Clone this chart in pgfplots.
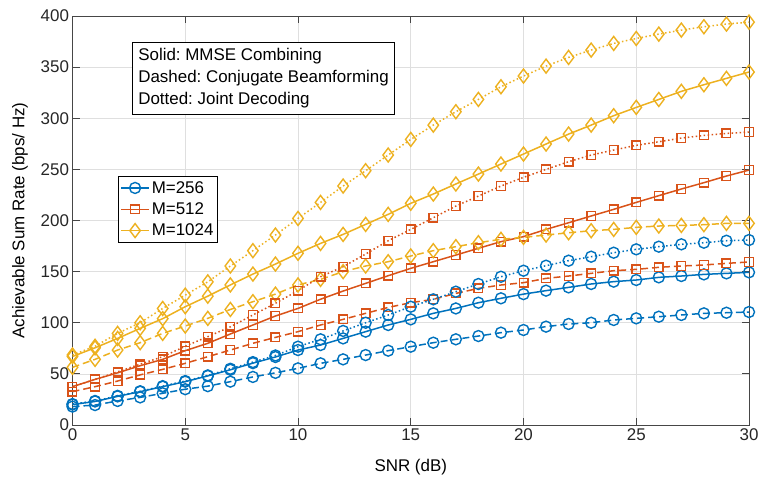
\documentclass[border=0pt]{standalone}
\usepackage{pgfplots}
\pgfplotsset{compat=1.18}
\usepackage{pgfplotstable}
\usepackage{fontspec}
\setmainfont{Liberation Sans}
\frenchspacing
\definecolor{mblue}{RGB}{0,114,189}
\definecolor{morange}{RGB}{217,83,25}
\definecolor{myellow}{RGB}{237,177,32}
\definecolor{axgray}{RGB}{70,70,70}
\definecolor{gridgray}{RGB}{223,223,223}
\pgfplotstableread{
snr bs bdash bd os odash od ys ydash yd
0 20 18 20.5 37.5 32.6 37.5 67 56.4 68.5
1 23 19.5 23.5 44.6 37.5 44.6 75.5 64.2 77
2 28 23.5 28.5 51 43 52 84.7 73.3 89.6
3 32.6 27 33 58 49 59.5 94.5 80.5 100
4 37.5 31 38 64.2 54.4 66.8 104 89.6 114
5 42.4 35 43 72.7 60.3 77 115.7 96.8 127
6 48 38 48.5 79.9 66.8 86.4 126 104.3 140
7 54 42.4 55 89 73.3 96 137 113 155.5
8 60.5 47 61.5 97.8 79.9 107.6 147.6 120.6 170.5
9 66.5 51 68 106.6 85.7 119 157.4 128 185.8
10 73.3 55.4 76.6 114 91.3 131.4 167.9 137 202
11 78.2 60.3 83.8 123 97.8 145 177.6 142.4 217.7
12 84.7 64.2 92 131 103.3 154.8 186.4 150 233.7
13 91.3 68.4 100 138.5 109.2 167.2 196.2 155.5 248.7
14 97.8 72.7 107.6 146 115 180.2 206 159.7 264
15 103.3 76.6 115.7 153.2 119.6 191.3 216.8 165.3 279.3
16 109.2 80.5 122.9 159.7 122.9 202.7 225.9 170.5 293.3
17 114 83.8 130.4 166.2 128.7 214.1 235.7 174.4 306.4
18 119.6 87 137.9 172.8 133.6 223.9 245.4 178.3 318.4
19 123.9 90.3 145 179.3 136.9 233.7 255.2 181.6 330.8
20 128 92.9 150.9 184.2 139.2 242.2 265 183.5 341.3
21 131.4 96.2 155.8 191.3 143.4 250 274.8 185.8 351
22 134.6 98.8 160.7 197.8 145.7 257.5 284.5 188 359.5
23 137.9 100 164.6 204.4 148.3 264 293.3 190 366.7
24 140.2 102.7 168.5 210.9 150.9 268.9 302.5 191.3 373.2
25 141.8 104.3 171.8 217.7 152.2 273.5 310.6 193.3 378
26 144.4 105.9 174.4 224.3 154.2 277 318.4 194.6 382.3
27 145.7 107.6 176.7 230.8 155.5 280.6 326.3 195.2 386.2
28 147.3 109.2 178.3 237 156.5 283.2 332.8 195.9 389.5
29 148.3 109.8 180.2 243.5 158.1 285.2 339 197.2 392.1
30 149.3 110.5 180.9 249.3 159.4 286.5 345.2 197.2 394
}\datatable
\begin{document}
\begin{tikzpicture}
\useasboundingbox (-72.5bp,-57bp) rectangle (687.5bp,425bp);
\begin{axis}[
  at={(0,0)}, anchor=south west,
  scale only axis, width=676.5bp, height=409bp,
  xmin=0, xmax=30, ymin=0, ymax=400,
  xtick={0,5,...,30}, ytick={0,50,...,400},
  grid=major,
  major grid style={gridgray, line width=0.6bp},
  axis line style={axgray, line width=0.8bp},
  tick style={axgray, line width=0.8bp},
  major tick length=7bp,
  tick align=inside,
  xtick pos=both, ytick pos=both,
  font=\fontsize{17}{20}\selectfont,
  tick label style={font=\fontsize{17}{20}\selectfont, text=black!85},
  /pgf/number format/assume math mode=true,
  xlabel={SNR (dB)},
  ylabel={Achievable Sum Rate (bps/ Hz)},
  xlabel style={at={(axis description cs:0.5,-0.1027)}, anchor=center, font=\fontsize{17}{20}\selectfont},
  ylabel style={at={(axis description cs:-0.0776,0.5)}, anchor=center, font=\fontsize{17}{20}\selectfont},
  legend style={at={(axis description cs:0.0673,0.6088)}, anchor=north west,
    draw=black, line width=0.6bp, fill=white, font=\fontsize{17}{20}\selectfont,
    inner xsep=2bp, inner ysep=3bp, row sep=4bp,
    /tikz/every even column/.append style={column sep=1bp}},
  legend cell align=left,
  legend image code/.code={\draw[#1,solid,mark repeat=2,mark phase=2] plot coordinates {(0bp,0bp) (14bp,0bp) (28bp,0bp)};},
  every axis plot/.append style={line width=1.5bp},
]
% solid (legend)
\addplot[mblue, solid, mark=o, mark size=5.5bp, mark options={solid, line width=1.4bp}] table[x=snr,y=bs] {\datatable};
\addlegendentry{M=256}
\addplot[morange, solid, mark=square, mark size=4.3bp, mark options={solid, line width=1.4bp}] table[x=snr,y=os] {\datatable};
\addlegendentry{M=512}
\addplot[myellow, solid, mark=diamond, mark size=7bp, mark options={solid, line width=1.4bp}] table[x=snr,y=ys] {\datatable};
\addlegendentry{M=1024}
% dashed
\addplot[mblue, dash pattern=on 7bp off 4bp, mark=o, mark size=5.5bp, mark options={solid, line width=1.4bp}, forget plot] table[x=snr,y=bdash] {\datatable};
\addplot[morange, dash pattern=on 7bp off 4bp, mark=square, mark size=4.3bp, mark options={solid, line width=1.4bp}, forget plot] table[x=snr,y=odash] {\datatable};
\addplot[myellow, dash pattern=on 7bp off 4bp, mark=diamond, mark size=7bp, mark options={solid, line width=1.4bp}, forget plot] table[x=snr,y=ydash] {\datatable};
% dotted
\addplot[mblue, dash pattern=on 1.5bp off 2.5bp, mark=o, mark size=5.5bp, mark options={solid, line width=1.4bp}, forget plot] table[x=snr,y=bd] {\datatable};
\addplot[morange, dash pattern=on 1.5bp off 2.5bp, mark=square, mark size=4.3bp, mark options={solid, line width=1.4bp}, forget plot] table[x=snr,y=od] {\datatable};
\addplot[myellow, dash pattern=on 1.5bp off 2.5bp, mark=diamond, mark size=7bp, mark options={solid, line width=1.4bp}, forget plot] table[x=snr,y=yd] {\datatable};
\node[draw=black, line width=0.6bp, fill=white, anchor=north west, align=left,
  inner xsep=6bp, inner ysep=6bp, font=\fontsize{17}{22}\selectfont]
  at (axis description cs:0.088,0.9364)
  {Solid: MMSE Combining\\Dashed: Conjugate Beamforming\\Dotted: Joint Decoding};
\end{axis}
\end{tikzpicture}
\end{document}
